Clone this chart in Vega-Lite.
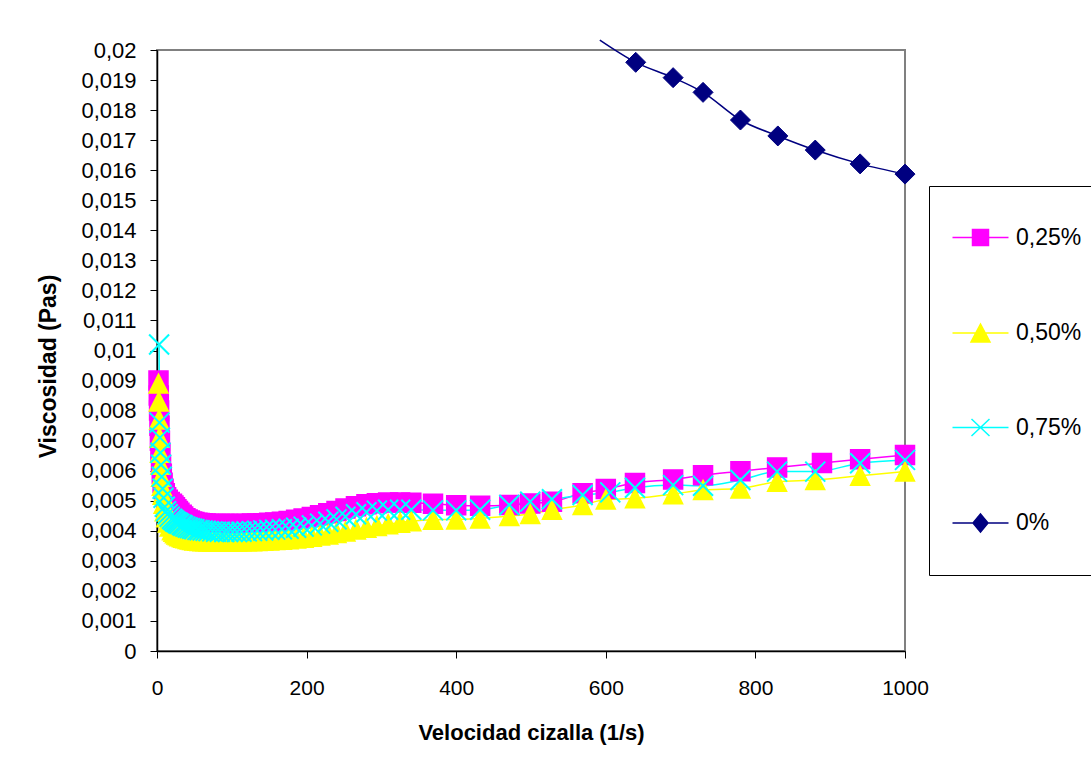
{
  "$schema": "https://vega.github.io/schema/vega-lite/v6.json",
  "width": 748,
  "height": 601,
  "autosize": {"type": "none"},
  "padding": {"left": 157, "top": 50, "right": 186, "bottom": 118},
  "background": "#ffffff",
  "config": {
    "view": {"stroke": "#808080", "strokeWidth": 2},
    "font": "Liberation Sans"
  },
  "data": {
    "values": [
      {"s":"0,25%","x":2,"v":0.009},{"s":"0,25%","x":2.4,"v":0.0085},{"s":"0,25%","x":2.8,"v":0.008},{"s":"0,25%","x":3.3,"v":0.0075},{"s":"0,25%","x":3.9,"v":0.007},{"s":"0,25%","x":4.6,"v":0.0066},{"s":"0,25%","x":5.4,"v":0.0062},{"s":"0,25%","x":6.4,"v":0.0059},{"s":"0,25%","x":7.5,"v":0.0056},{"s":"0,25%","x":8.8,"v":0.0054},{"s":"0,25%","x":10.4,"v":0.00525},{"s":"0,25%","x":12.2,"v":0.00512},{"s":"0,25%","x":14.4,"v":0.00503},{"s":"0,25%","x":17,"v":0.00496},{"s":"0,25%","x":20,"v":0.0049},{"s":"0,25%","x":24,"v":0.00478},{"s":"0,25%","x":28,"v":0.00466},{"s":"0,25%","x":33,"v":0.00453},{"s":"0,25%","x":38,"v":0.00442},{"s":"0,25%","x":44,"v":0.00434},{"s":"0,25%","x":50,"v":0.00429},{"s":"0,25%","x":57,"v":0.00426},{"s":"0,25%","x":65,"v":0.00424},{"s":"0,25%","x":74,"v":0.00423},{"s":"0,25%","x":84,"v":0.00423},{"s":"0,25%","x":95,"v":0.00423},{"s":"0,25%","x":107,"v":0.00423},{"s":"0,25%","x":120,"v":0.00423},{"s":"0,25%","x":134,"v":0.00424},{"s":"0,25%","x":150,"v":0.00427},{"s":"0,25%","x":167,"v":0.0043},{"s":"0,25%","x":186,"v":0.00437},{"s":"0,25%","x":207,"v":0.00446},{"s":"0,25%","x":229,"v":0.00458},{"s":"0,25%","x":252,"v":0.00474},{"s":"0,25%","x":280,"v":0.00488},{"s":"0,25%","x":309,"v":0.00494},{"s":"0,25%","x":340,"v":0.00493},{"s":"0,25%","x":369,"v":0.0049},{"s":"0,25%","x":400,"v":0.00485},{"s":"0,25%","x":432,"v":0.00483},{"s":"0,25%","x":471,"v":0.00486},{"s":"0,25%","x":499,"v":0.00491},{"s":"0,25%","x":528,"v":0.00497},{"s":"0,25%","x":569,"v":0.00525},{"s":"0,25%","x":600,"v":0.00539},{"s":"0,25%","x":639,"v":0.00559},{"s":"0,25%","x":690,"v":0.00571},{"s":"0,25%","x":730,"v":0.00585},{"s":"0,25%","x":780,"v":0.00598},{"s":"0,25%","x":829,"v":0.00611},{"s":"0,25%","x":889,"v":0.00626},{"s":"0,25%","x":940,"v":0.00638},{"s":"0,25%","x":1000,"v":0.00652},
      {"s":"0,25%","x":22,"v":0.00484},{"s":"0,25%","x":26,"v":0.00472},{"s":"0,25%","x":30,"v":0.0046},{"s":"0,25%","x":35,"v":0.00448},{"s":"0,25%","x":41,"v":0.00438},{"s":"0,25%","x":47,"v":0.00431},{"s":"0,25%","x":54,"v":0.00427},{"s":"0,25%","x":61,"v":0.00425},{"s":"0,25%","x":69,"v":0.00423},{"s":"0,25%","x":79,"v":0.00423},{"s":"0,25%","x":90,"v":0.00423},{"s":"0,25%","x":101,"v":0.00423},{"s":"0,25%","x":113,"v":0.00423},{"s":"0,25%","x":127,"v":0.00424},{"s":"0,25%","x":142,"v":0.00425},{"s":"0,25%","x":158,"v":0.00428},{"s":"0,25%","x":176,"v":0.00433},{"s":"0,25%","x":196,"v":0.00441},{"s":"0,25%","x":218,"v":0.00452},{"s":"0,25%","x":240,"v":0.00466},{"s":"0,25%","x":266,"v":0.00482},{"s":"0,25%","x":294,"v":0.00492},{"s":"0,25%","x":325,"v":0.00494},

      {"s":"0,50%","x":2,"v":0.0089},{"s":"0,50%","x":2.4,"v":0.0083},{"s":"0,50%","x":2.8,"v":0.0077},{"s":"0,50%","x":3.3,"v":0.0071},{"s":"0,50%","x":3.9,"v":0.0066},{"s":"0,50%","x":4.6,"v":0.0062},{"s":"0,50%","x":5.4,"v":0.0058},{"s":"0,50%","x":6.4,"v":0.0055},{"s":"0,50%","x":7.5,"v":0.0052},{"s":"0,50%","x":8.8,"v":0.0049},{"s":"0,50%","x":10.4,"v":0.00465},{"s":"0,50%","x":12.2,"v":0.00445},{"s":"0,50%","x":14.4,"v":0.00428},{"s":"0,50%","x":17,"v":0.00414},{"s":"0,50%","x":20,"v":0.00402},{"s":"0,50%","x":24,"v":0.00392},{"s":"0,50%","x":28,"v":0.00385},{"s":"0,50%","x":33,"v":0.00379},{"s":"0,50%","x":38,"v":0.00375},{"s":"0,50%","x":44,"v":0.00371},{"s":"0,50%","x":50,"v":0.00368},{"s":"0,50%","x":57,"v":0.00366},{"s":"0,50%","x":65,"v":0.00365},{"s":"0,50%","x":74,"v":0.00364},{"s":"0,50%","x":84,"v":0.00364},{"s":"0,50%","x":95,"v":0.00364},{"s":"0,50%","x":107,"v":0.00364},{"s":"0,50%","x":120,"v":0.00365},{"s":"0,50%","x":134,"v":0.00366},{"s":"0,50%","x":150,"v":0.00368},{"s":"0,50%","x":167,"v":0.0037},{"s":"0,50%","x":186,"v":0.00374},{"s":"0,50%","x":207,"v":0.0038},{"s":"0,50%","x":229,"v":0.00388},{"s":"0,50%","x":252,"v":0.00398},{"s":"0,50%","x":280,"v":0.0041},{"s":"0,50%","x":309,"v":0.00422},{"s":"0,50%","x":340,"v":0.00432},{"s":"0,50%","x":369,"v":0.00437},{"s":"0,50%","x":400,"v":0.00438},{"s":"0,50%","x":432,"v":0.00441},{"s":"0,50%","x":471,"v":0.00449},{"s":"0,50%","x":499,"v":0.00456},{"s":"0,50%","x":528,"v":0.0047},{"s":"0,50%","x":569,"v":0.00486},{"s":"0,50%","x":600,"v":0.00504},{"s":"0,50%","x":639,"v":0.00508},{"s":"0,50%","x":690,"v":0.00522},{"s":"0,50%","x":730,"v":0.00536},{"s":"0,50%","x":780,"v":0.00541},{"s":"0,50%","x":829,"v":0.00563},{"s":"0,50%","x":880,"v":0.00569},{"s":"0,50%","x":940,"v":0.00583},{"s":"0,50%","x":1000,"v":0.00597},
      {"s":"0,50%","x":22,"v":0.00397},{"s":"0,50%","x":26,"v":0.00388},{"s":"0,50%","x":30,"v":0.00382},{"s":"0,50%","x":35,"v":0.00377},{"s":"0,50%","x":41,"v":0.00373},{"s":"0,50%","x":47,"v":0.00369},{"s":"0,50%","x":54,"v":0.00367},{"s":"0,50%","x":61,"v":0.00365},{"s":"0,50%","x":69,"v":0.00364},{"s":"0,50%","x":79,"v":0.00364},{"s":"0,50%","x":90,"v":0.00364},{"s":"0,50%","x":101,"v":0.00364},{"s":"0,50%","x":113,"v":0.00365},{"s":"0,50%","x":127,"v":0.00365},{"s":"0,50%","x":142,"v":0.00367},{"s":"0,50%","x":158,"v":0.00369},{"s":"0,50%","x":176,"v":0.00372},{"s":"0,50%","x":196,"v":0.00377},{"s":"0,50%","x":218,"v":0.00384},{"s":"0,50%","x":240,"v":0.00393},{"s":"0,50%","x":266,"v":0.00404},{"s":"0,50%","x":294,"v":0.00416},{"s":"0,50%","x":325,"v":0.00427},

      {"s":"0,75%","x":2.8,"v":0.0102},{"s":"0,75%","x":3.3,"v":0.0076},{"s":"0,75%","x":3.9,"v":0.0071},{"s":"0,75%","x":4.6,"v":0.0066},{"s":"0,75%","x":5.4,"v":0.0062},{"s":"0,75%","x":6.4,"v":0.0058},{"s":"0,75%","x":7.5,"v":0.0054},{"s":"0,75%","x":8.8,"v":0.0051},{"s":"0,75%","x":10.4,"v":0.0048},{"s":"0,75%","x":12.2,"v":0.00465},{"s":"0,75%","x":14.4,"v":0.00455},{"s":"0,75%","x":17,"v":0.00447},{"s":"0,75%","x":20,"v":0.0044},{"s":"0,75%","x":24,"v":0.00432},{"s":"0,75%","x":28,"v":0.00426},{"s":"0,75%","x":33,"v":0.0042},{"s":"0,75%","x":38,"v":0.00414},{"s":"0,75%","x":44,"v":0.00409},{"s":"0,75%","x":50,"v":0.00405},{"s":"0,75%","x":57,"v":0.00402},{"s":"0,75%","x":65,"v":0.004},{"s":"0,75%","x":74,"v":0.00398},{"s":"0,75%","x":84,"v":0.00397},{"s":"0,75%","x":95,"v":0.00396},{"s":"0,75%","x":107,"v":0.00396},{"s":"0,75%","x":120,"v":0.00398},{"s":"0,75%","x":134,"v":0.004},{"s":"0,75%","x":150,"v":0.00403},{"s":"0,75%","x":167,"v":0.00405},{"s":"0,75%","x":186,"v":0.0041},{"s":"0,75%","x":207,"v":0.00418},{"s":"0,75%","x":229,"v":0.0043},{"s":"0,75%","x":252,"v":0.00447},{"s":"0,75%","x":280,"v":0.00462},{"s":"0,75%","x":309,"v":0.0047},{"s":"0,75%","x":340,"v":0.0047},{"s":"0,75%","x":369,"v":0.00468},{"s":"0,75%","x":400,"v":0.00468},{"s":"0,75%","x":432,"v":0.0047},{"s":"0,75%","x":471,"v":0.00486},{"s":"0,75%","x":499,"v":0.00497},{"s":"0,75%","x":528,"v":0.00505},{"s":"0,75%","x":569,"v":0.00519},{"s":"0,75%","x":606,"v":0.00528},{"s":"0,75%","x":639,"v":0.00543},{"s":"0,75%","x":690,"v":0.00552},{"s":"0,75%","x":730,"v":0.0055},{"s":"0,75%","x":780,"v":0.00569},{"s":"0,75%","x":829,"v":0.00597},{"s":"0,75%","x":880,"v":0.00597},{"s":"0,75%","x":940,"v":0.00625},{"s":"0,75%","x":1000,"v":0.00636},
      {"s":"0,75%","x":22,"v":0.00436},{"s":"0,75%","x":26,"v":0.00429},{"s":"0,75%","x":30,"v":0.00423},{"s":"0,75%","x":35,"v":0.00417},{"s":"0,75%","x":41,"v":0.00411},{"s":"0,75%","x":47,"v":0.00407},{"s":"0,75%","x":54,"v":0.00403},{"s":"0,75%","x":61,"v":0.00401},{"s":"0,75%","x":69,"v":0.00399},{"s":"0,75%","x":79,"v":0.00397},{"s":"0,75%","x":90,"v":0.00396},{"s":"0,75%","x":101,"v":0.00396},{"s":"0,75%","x":113,"v":0.00397},{"s":"0,75%","x":127,"v":0.00399},{"s":"0,75%","x":142,"v":0.00401},{"s":"0,75%","x":158,"v":0.00404},{"s":"0,75%","x":176,"v":0.00407},{"s":"0,75%","x":196,"v":0.00414},{"s":"0,75%","x":218,"v":0.00424},{"s":"0,75%","x":240,"v":0.00438},{"s":"0,75%","x":266,"v":0.00455},{"s":"0,75%","x":294,"v":0.00467},{"s":"0,75%","x":325,"v":0.0047},

      {"s":"0%","x":592,"v":0.02033},{"s":"0%","x":640,"v":0.01959},{"s":"0%","x":690,"v":0.01908},{"s":"0%","x":730,"v":0.01859},{"s":"0%","x":780,"v":0.01767},{"s":"0%","x":830,"v":0.01714},{"s":"0%","x":880,"v":0.01667},{"s":"0%","x":940,"v":0.01621},{"s":"0%","x":1000,"v":0.01587}
    ]
  },
  "encoding": {
    "x": {
      "field": "x", "type": "quantitative",
      "scale": {"domain": [0, 1000], "nice": false, "zero": false},
      "axis": {
        "values": [0, 200, 400, 600, 800, 1000],
        "format": "d",
        "grid": false,
        "domainColor": "#000000", "domainWidth": 1.5,
        "tickColor": "#000000", "tickSize": 7, "tickWidth": 1,
        "labelFont": "Liberation Sans", "labelFontSize": 21, "labelColor": "#000000",
        "labelPadding": 19, "labelFlush": false, "labelOverlap": false, "labelBound": false,
        "title": "Velocidad cizalla (1/s)",
        "titleFont": "Liberation Sans", "titleFontSize": 22, "titleFontWeight": "bold", "titleColor": "#000000",
        "titleY": 88, "titleBaseline": "alphabetic"
      }
    },
    "y": {
      "field": "v", "type": "quantitative",
      "scale": {"domain": [0, 0.02], "nice": false, "zero": false},
      "axis": {
        "values": [0, 0.001, 0.002, 0.003, 0.004, 0.005, 0.006, 0.007, 0.008, 0.009, 0.01, 0.011, 0.012, 0.013, 0.014, 0.015, 0.016, 0.017, 0.018, 0.019, 0.02],
        "labelExpr": "replace(format(datum.value, '~g'), '.', ',')",
        "grid": false,
        "domainColor": "#000000", "domainWidth": 1.5,
        "tickColor": "#000000", "tickSize": 7, "tickWidth": 1,
        "labelFont": "Liberation Sans", "labelFontSize": 22, "labelColor": "#000000",
        "labelPadding": 14, "labelFlush": false, "labelOverlap": false, "labelBound": false,
        "title": "Viscosidad (Pas)",
        "titleFont": "Liberation Sans", "titleFontSize": 23, "titleFontWeight": "bold", "titleColor": "#000000",
        "titleX": -102, "titleY": 316, "titleBaseline": "alphabetic", "titleAngle": -90, "titleAlign": "center"
      }
    }
  },
  "layer": [
    {
      "mark": {"type": "line", "strokeWidth": 1.5, "interpolate": "monotone", "clip": false},
      "encoding": {
        "color": {
          "field": "s", "type": "nominal",
          "scale": {"domain": ["0,25%", "0,50%", "0,75%", "0%"], "range": ["#ff00ff", "#ffff00", "#00ffff", "#000080"]},
          "legend": {
            "title": null,
            "orient": "none", "legendX": 772, "legendY": 136,
            "padding": 40,
            "strokeColor": "#000000", "fillColor": "#ffffff",
            "labelFont": "Liberation Sans", "labelFontSize": 23, "labelColor": "#000000",
            "labelOffset": 24, "rowPadding": 70.5,
            "symbolSize": 400, "symbolStrokeWidth": 1.5,
            "encode": {
              "symbols": {
                "update": {
                  "shape": {"signal": "datum.value === '0,25%' ? 'M-2.8,0L2.8,0M-0.8,-0.8L0.8,-0.8L0.8,0.8L-0.8,0.8Z' : datum.value === '0,50%' ? 'M-2.8,0L2.8,0M0,-0.9L0.95,0.9L-0.95,0.9Z' : datum.value === '0,75%' ? 'M-2.8,0L2.8,0M-0.9,-0.85L0.9,0.85M-0.9,0.85L0.9,-0.85' : 'M-2.8,0L2.8,0M0,-0.9L0.75,0L0,0.9L-0.75,0Z'"},
                  "fill": {"signal": "datum.value === '0,25%' ? '#ff00ff' : datum.value === '0,50%' ? '#ffff00' : datum.value === '0,75%' ? '#00ffff' : '#000080'"},
                  "stroke": {"signal": "datum.value === '0,25%' ? '#ff00ff' : datum.value === '0,50%' ? '#ffff00' : datum.value === '0,75%' ? '#00ffff' : '#000080'"},
                  "strokeWidth": {"value": 1.5},
                  "size": {"value": 400},
                  "opacity": {"value": 1},
                  "fillOpacity": {"value": 1},
                  "strokeOpacity": {"value": 1}
                }
              }
            }
          }
        }
      }
    },
    {
      "transform": [{"filter": "datum.s === '0,25%'"}],
      "mark": {"type": "point", "shape": "M-1,-1L1,-1L1,1L-1,1Z", "filled": true, "fill": "#ff00ff", "stroke": "#ff00ff", "size": 361, "strokeWidth": 1.5, "opacity": 1}
    },
    {
      "transform": [{"filter": "datum.s === '0,50%'"}],
      "mark": {"type": "point", "shape": "M0,-1L1,1L-1,1Z", "filled": true, "fill": "#ffff00", "stroke": "#ffff00", "size": 361, "strokeWidth": 1.5, "opacity": 1}
    },
    {
      "transform": [{"filter": "datum.s === '0,75%'"}],
      "mark": {"type": "point", "shape": "M-1,-1L1,1M-1,1L1,-1", "filled": false, "stroke": "#00ffff", "size": 400, "strokeWidth": 2, "opacity": 1}
    },
    {
      "transform": [{"filter": "datum.s === '0%' && datum.v <= 0.02"}],
      "mark": {"type": "point", "shape": "M0,-1L1,0L0,1L-1,0Z", "filled": true, "fill": "#000080", "stroke": "#000080", "size": 400, "strokeWidth": 1, "opacity": 1}
    }
  ]
}
